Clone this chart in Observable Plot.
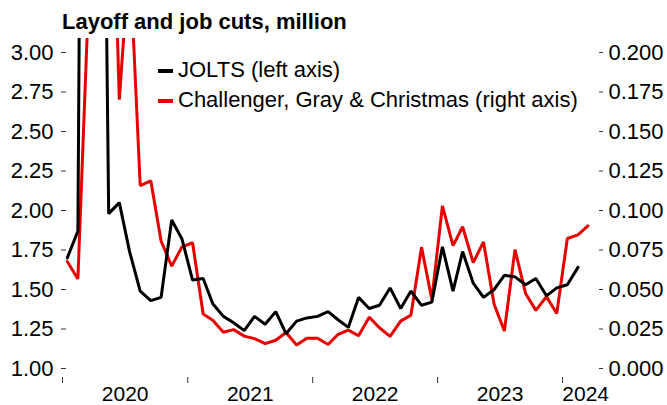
<!DOCTYPE html>
<html><head><meta charset="utf-8">
<script src="https://cdn.jsdelivr.net/npm/d3@7"></script>
<script src="https://cdn.jsdelivr.net/npm/@observablehq/plot@0.6"></script>
<style>
body{margin:0;background:#fff;}
#wrap{position:relative;width:667px;height:405px;font-family:"Liberation Sans",Arial,sans-serif;color:#000;}
#title{position:absolute;left:62px;top:11px;font-weight:bold;font-size:22px;line-height:22px;white-space:nowrap;}
#legend{position:absolute;left:158px;top:55px;font-size:22px;line-height:30px;white-space:nowrap;}
.sw{display:inline-block;width:15px;height:4px;vertical-align:middle;margin-right:5px;}
</style></head>
<body><div id="wrap"><div id="chart"></div><div id="title"></div><div id="legend"></div></div>
<script>
const titleText = "Layoff and job cuts, million";
const seriesNames = ["JOLTS (left axis)", "Challenger, Gray & Christmas (right axis)"];
const seriesColors = ["#000000", "#e60000"];
const firstMonth = "2020-01";
// JOLTS layoffs & discharges, million (left axis), Jan 2020 - Feb 2024
const jolts = [1.70,1.87,11.5,7.7,1.98,2.05,1.74,1.49,1.43,1.45,
               1.94,1.82,1.56,1.57,1.41,1.33,1.29,1.24,1.33,1.28,
               1.36,1.22,1.30,1.32,1.33,1.36,1.31,1.26,1.45,1.38,
               1.40,1.51,1.38,1.49,1.40,1.42,1.77,1.49,1.74,1.54,
               1.45,1.50,1.59,1.58,1.53,1.57,1.46,1.51,1.53,1.64];
// Challenger job cuts, million (right axis), Jan 2020 - Mar 2024
const challenger = [0.0677,0.0567,0.2223,0.6711,0.3970,0.1702,0.2626,0.1158,0.1188,0.0807,
                    0.0648,0.0770,0.0796,0.0345,0.0306,0.0229,0.0246,0.0205,0.0189,0.0157,
                    0.0179,0.0228,0.0149,0.0191,0.0191,0.0152,0.0214,0.0243,0.0207,0.0325,
                    0.0258,0.0203,0.0300,0.0338,0.0768,0.0437,0.1029,0.0778,0.0897,0.0670,
                    0.0801,0.0407,0.0237,0.0752,0.0475,0.0368,0.0455,0.0348,0.0823,0.0846,0.0903];
const leftTicks = [1.00,1.25,1.50,1.75,2.00,2.25,2.50,2.75,3.00];
const rightTicks = [0.000,0.025,0.050,0.075,0.100,0.125,0.150,0.175,0.200];
const years = [2020,2021,2022,2023,2024];

const start = d3.utcParse("%Y-%m")(firstMonth);
const monthDate = i => d3.utcDay.offset(d3.utcMonth.offset(start, i), 14);
const joltsData = jolts.map((v, i) => ({date: monthDate(i), v}));
const chData = challenger.map((v, i) => ({date: monthDate(i), v}));
const toLeft = r => 1 + 10 * r;

const xStart = start;
const xEnd = d3.utcDay.offset(d3.utcMonth.offset(start, 51), 14);
const yearStarts = years.map(y => new Date(Date.UTC(y, 0, 1)));
const labelEnd = d3.utcMonth.offset(chData[chData.length - 1].date, 2);
const yearMids = years.map(y => {
  const a = new Date(Date.UTC(y, 0, 1));
  const b = new Date(Math.min(+new Date(Date.UTC(y + 1, 0, 1)), +labelEnd));
  return new Date((+a + +b) / 2);
});

const chart = Plot.plot({
  width: 667, height: 405,
  marginTop: 38, marginBottom: 28, marginLeft: 66, marginRight: 69,
  x: {type: "utc", domain: [xStart, xEnd], range: [62, 598]},
  y: {domain: [1, 3], range: [368, 52]},
  style: {fontFamily: "'Liberation Sans', Arial, sans-serif", fontSize: "22px", color: "#000", background: "#fff", overflow: "visible"},
  marks: [
    Plot.axisY({anchor: "left", ticks: leftTicks, tickSize: 5, tickPadding: 8, tickFormat: d3.format(".2f"), stroke: "#333", label: null}),
    Plot.axisY({anchor: "right", ticks: rightTicks.map(toLeft), tickSize: 4, tickPadding: 6, tickFormat: d => d3.format(".3f")((d - 1) / 10), stroke: "#333", label: null}),
    Plot.axisX({ticks: yearStarts, tickSize: 6, tickFormat: () => "", stroke: "#333", label: null}),
    Plot.axisX({ticks: yearMids, tickSize: 0, tickPadding: 9, fontSize: 21, tickFormat: d3.utcFormat("%Y"), label: null}),
    Plot.line(chData, {x: "date", y: d => toLeft(d.v), stroke: seriesColors[1], strokeWidth: 3, strokeLinejoin: "miter", clip: "frame"}),
    Plot.line(joltsData, {x: "date", y: "v", stroke: seriesColors[0], strokeWidth: 3, strokeLinejoin: "miter", clip: "frame"})
  ]
});
document.getElementById("chart").append(chart);
document.getElementById("title").textContent = titleText;
const leg = document.getElementById("legend");
seriesNames.forEach((n, i) => {
  const row = document.createElement("div");
  const sw = document.createElement("span");
  sw.className = "sw"; sw.style.background = seriesColors[i];
  row.append(sw, document.createTextNode(n));
  leg.append(row);
});
</script>
</body></html>
